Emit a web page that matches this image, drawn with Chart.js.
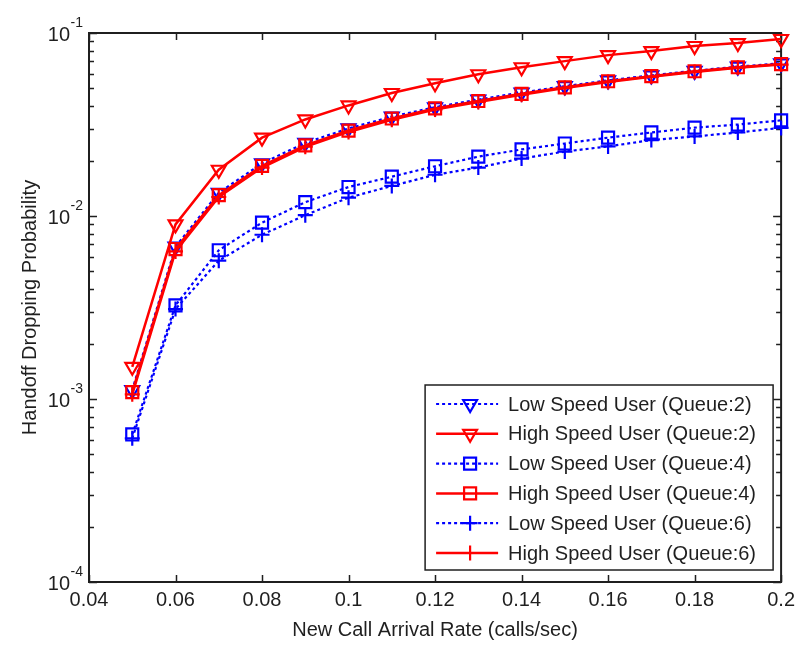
<!DOCTYPE html>
<html>
<head>
<meta charset="utf-8">
<title>Handoff Dropping Probability vs New Call Arrival Rate</title>
<script src="https://cdn.jsdelivr.net/npm/chart.js@4/dist/chart.umd.min.js"></script>
<style>
  html, body { margin: 0; padding: 0; background: #ffffff; }
  #wrap { width: 801px; height: 645px; }
  canvas { display: block; }
</style>
</head>
<body>
<div id="wrap"><canvas id="chart" width="801" height="645"></canvas></div>
<script>
// New call arrival rate (calls/sec)
const arrivalRates = [0.05, 0.06, 0.07, 0.08, 0.09, 0.10, 0.11, 0.12, 0.13, 0.14, 0.15, 0.16, 0.17, 0.18, 0.19, 0.20];

// Handoff dropping probability per user class and queue length
const lowSpeedQ2  = [1.12e-3, 6.8e-3, 0.0134, 0.0194, 0.0251, 0.0301, 0.0349, 0.0393, 0.0433, 0.0473, 0.0512, 0.0551, 0.0587, 0.0622, 0.0655, 0.0683];
const highSpeedQ2 = [1.50e-3, 9.0e-3, 0.0179, 0.0268, 0.0337, 0.0402, 0.0470, 0.0531, 0.0595, 0.0650, 0.0702, 0.0757, 0.0797, 0.0849, 0.0881, 0.0927];
const lowSpeedQ4  = [6.4e-4, 3.25e-3, 6.5e-3, 9.2e-3, 0.0119, 0.0144, 0.0164, 0.0187, 0.0211, 0.0231, 0.0249, 0.0268, 0.0286, 0.0304, 0.0316, 0.0333];
const highSpeedQ4 = [1.09e-3, 6.6e-3, 0.0130, 0.0188, 0.0243, 0.0293, 0.0341, 0.0387, 0.0425, 0.0465, 0.0505, 0.0545, 0.0581, 0.0618, 0.0650, 0.0676];
const lowSpeedQ6  = [6.1e-4, 3.1e-3, 5.7e-3, 7.9e-3, 0.0101, 0.0126, 0.0146, 0.0168, 0.0184, 0.0206, 0.0225, 0.0240, 0.0260, 0.0272, 0.0286, 0.0303];
const highSpeedQ6 = [1.06e-3, 6.4e-3, 0.0127, 0.0184, 0.0239, 0.0288, 0.0336, 0.0382, 0.0420, 0.0460, 0.0500, 0.0540, 0.0576, 0.0613, 0.0645, 0.0672];

const seriesLabels = [
  'Low Speed User (Queue:2)',
  'High Speed User (Queue:2)',
  'Low Speed User (Queue:4)',
  'High Speed User (Queue:4)',
  'Low Speed User (Queue:6)',
  'High Speed User (Queue:6)'
];

// Axis ticks
const xTickValues = [0.04, 0.06, 0.08, 0.10, 0.12, 0.14, 0.16, 0.18, 0.20];
const yTickExponents = [-4, -3, -2, -1];
const xAxisTitle = 'New Call Arrival Rate (calls/sec)';
const yAxisTitle = 'Handoff Dropping Probability';

const BLUE = '#0000ff';
const RED = '#ff0000';
const INK = '#1f1f1f';
const FONT = '"Liberation Sans", Arial, Helvetica, sans-serif';
const DOTS = [3, 3];

function points(values) {
  return arrivalRates.map((x, i) => ({ x: x, y: values[i] }));
}

function series(label, values, color, dotted, marker, rotation, radius, order) {
  return {
    label: label,
    data: points(values),
    borderColor: color,
    borderWidth: dotted ? 2.2 : 2.5,
    borderDash: dotted ? DOTS : [],
    pointStyle: marker,
    rotation: rotation,
    pointRadius: radius,
    pointBorderWidth: 2.2,
    pointBorderColor: color,
    pointBackgroundColor: 'rgba(0,0,0,0)',
    tension: 0,
    fill: false,
    clip: false,
    order: order
  };
}

const datasets = [
  series(seriesLabels[0], lowSpeedQ2,  BLUE, true,  'triangle', 180, 8,   5),
  series(seriesLabels[1], highSpeedQ2, RED,  false, 'triangle', 180, 8,   4),
  series(seriesLabels[2], lowSpeedQ4,  BLUE, true,  'rect',     0,   8.5, 3),
  series(seriesLabels[3], highSpeedQ4, RED,  false, 'rect',     0,   8.5, 2),
  series(seriesLabels[4], lowSpeedQ6,  BLUE, true,  'cross',    0,   7.5, 1),
  series(seriesLabels[5], highSpeedQ6, RED,  false, 'cross',    0,   7.5, 0)
];

function isDecade(v) {
  const l = Math.log10(v);
  return Math.abs(l - Math.round(l)) < 1e-9;
}

// Marker shapes for the legend samples, same geometry as the chart points
function drawMarker(ctx, style, x, y, r, rotationDeg) {
  const rad = (rotationDeg || 0) * Math.PI / 180;
  ctx.beginPath();
  if (style === 'triangle') {
    let a = rad;
    ctx.moveTo(x + Math.sin(a) * r, y - Math.cos(a) * r);
    a += 2 * Math.PI / 3;
    ctx.lineTo(x + Math.sin(a) * r, y - Math.cos(a) * r);
    a += 2 * Math.PI / 3;
    ctx.lineTo(x + Math.sin(a) * r, y - Math.cos(a) * r);
    ctx.closePath();
  } else if (style === 'rect') {
    const s = Math.SQRT1_2 * r;
    ctx.rect(x - s, y - s, 2 * s, 2 * s);
  } else if (style === 'cross') {
    ctx.moveTo(x, y - r); ctx.lineTo(x, y + r);
    ctx.moveTo(x - r, y); ctx.lineTo(x + r, y);
  }
  ctx.stroke();
}

// Box around the plot area with inward tick marks on all four sides
const axesFrame = {
  id: 'axesFrame',
  beforeDatasetsDraw(chart) {
    const { ctx, chartArea: a, scales } = chart;
    const xs = scales.x, ys = scales.y;
    ctx.save();
    ctx.strokeStyle = INK;
    ctx.lineWidth = 1.5;
    ctx.setLineDash([]);
    ctx.beginPath();
    xs.ticks.forEach(t => {
      const px = Math.round(xs.getPixelForValue(t.value)) + 0.5;
      ctx.moveTo(px, a.bottom); ctx.lineTo(px, a.bottom - 7);
      ctx.moveTo(px, a.top);    ctx.lineTo(px, a.top + 7);
    });
    ys.ticks.forEach(t => {
      const py = Math.round(ys.getPixelForValue(t.value)) + 0.5;
      const len = isDecade(t.value) ? 8 : 5;
      ctx.moveTo(a.left, py);  ctx.lineTo(a.left + len, py);
      ctx.moveTo(a.right, py); ctx.lineTo(a.right - len, py);
    });
    ctx.stroke();
    ctx.lineWidth = 2;
    ctx.strokeRect(a.left, a.top, a.right - a.left, a.bottom - a.top);
    ctx.restore();
  },
  afterDraw(chart) {
    const { ctx, chartArea: a, scales } = chart;
    const ys = scales.y;
    ctx.save();
    ctx.fillStyle = INK;
    // Decade labels written as 10 with a raised exponent
    yTickExponents.forEach(e => {
      const py = ys.getPixelForValue(Math.pow(10, e));
      const rightEdge = a.left - 19;
      ctx.font = '20px ' + FONT;
      ctx.textAlign = 'right';
      ctx.textBaseline = 'alphabetic';
      ctx.fillText('10', rightEdge, py + 7.5);
      ctx.font = '14px ' + FONT;
      ctx.textAlign = 'left';
      ctx.fillText(String(e), rightEdge + 0.5, py - 6);
    });
    ctx.restore();
  }
};

// Legend box in the lower right corner of the plot area
const insetLegend = {
  id: 'insetLegend',
  afterDraw(chart) {
    const { ctx, chartArea: a } = chart;
    const w = 348, h = 185;
    const bx = a.right - 8 - w, by = a.bottom - 12 - h;
    ctx.save();
    ctx.fillStyle = '#ffffff';
    ctx.fillRect(bx, by, w, h);
    ctx.strokeStyle = INK;
    ctx.lineWidth = 1.5;
    ctx.strokeRect(bx, by, w, h);
    chart.data.datasets.forEach((ds, i) => {
      const cy = by + 19 + i * 29.8;
      ctx.strokeStyle = ds.borderColor;
      ctx.lineWidth = ds.borderWidth;
      ctx.setLineDash(ds.borderDash || []);
      ctx.beginPath();
      ctx.moveTo(bx + 11, cy);
      ctx.lineTo(bx + 73, cy);
      ctx.stroke();
      ctx.setLineDash([]);
      ctx.lineWidth = ds.pointBorderWidth;
      drawMarker(ctx, ds.pointStyle, bx + 45, cy, ds.pointRadius, ds.rotation);
      ctx.fillStyle = INK;
      ctx.font = '20px ' + FONT;
      ctx.textAlign = 'left';
      ctx.textBaseline = 'middle';
      ctx.fillText(ds.label, bx + 83, cy + 1);
    });
    ctx.restore();
  }
};

new Chart(document.getElementById('chart'), {
  type: 'line',
  data: { datasets: datasets },
  options: {
    responsive: false,
    animation: false,
    devicePixelRatio: 1,
    events: [],
    layout: { padding: { top: 33, right: 18, bottom: 0, left: 0 } },
    plugins: {
      legend: { display: false },
      tooltip: { enabled: false }
    },
    scales: {
      x: {
        type: 'linear',
        min: 0.04,
        max: 0.2,
        afterBuildTicks: scale => { scale.ticks = xTickValues.map(v => ({ value: v })); },
        afterFit: scale => { scale.height = 63; },
        grid: { display: false, drawTicks: false },
        border: { display: false },
        ticks: {
          color: INK,
          padding: 6,
          maxRotation: 0,
          autoSkip: false,
          font: { family: FONT, size: 20 },
          callback: v => String(parseFloat(Number(v).toFixed(2)))
        },
        title: {
          display: true,
          text: xAxisTitle,
          color: INK,
          font: { family: FONT, size: 20 },
          padding: { top: 0, bottom: 3 }
        }
      },
      y: {
        type: 'logarithmic',
        min: 1e-4,
        max: 1e-1,
        afterBuildTicks: scale => {
          const ticks = [];
          yTickExponents.forEach((e, i) => {
            const last = i === yTickExponents.length - 1;
            const steps = last ? [1] : [1, 2, 3, 4, 5, 6, 7, 8, 9];
            steps.forEach(m => ticks.push({ value: m * Math.pow(10, e) }));
          });
          scale.ticks = ticks;
        },
        afterFit: scale => { scale.width = 89; },
        grid: { display: false, drawTicks: false },
        border: { display: false },
        ticks: { display: false },
        title: {
          display: true,
          text: yAxisTitle,
          color: INK,
          font: { family: FONT, size: 20 },
          padding: { top: 18, bottom: 0 }
        }
      }
    }
  },
  plugins: [axesFrame, insetLegend]
});
</script>
</body>
</html>
